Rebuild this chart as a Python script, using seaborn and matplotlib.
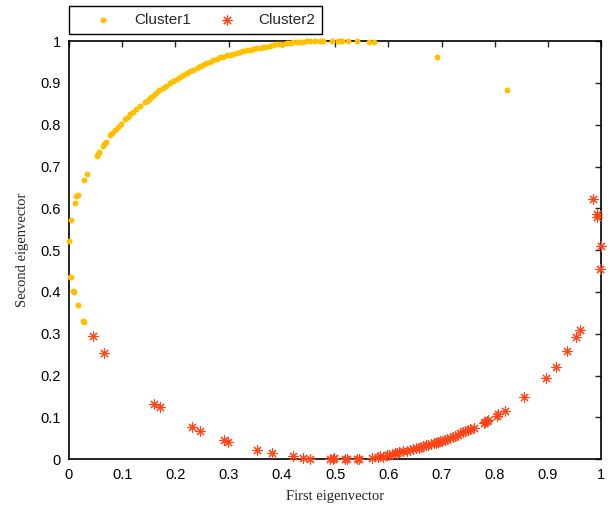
import matplotlib.pyplot as plt
import numpy as np
import pandas as pd
import seaborn as sns

# Cluster1: upper arc (yellow dots)
c1_x = [0.027, 0.028, 0.016, 0.009, 0.008, 0.002, 0.003, 0.000, 0.004, 0.011,
        0.014, 0.016, 0.029, 0.033,
        0.052, 0.054, 0.057, 0.064, 0.066, 0.069, 0.077, 0.080, 0.086, 0.092,
        0.097, 0.105, 0.110, 0.114, 0.120, 0.126, 0.133, 0.143, 0.146, 0.150,
        0.155, 0.160, 0.164, 0.170, 0.177, 0.183, 0.190, 0.196, 0.202, 0.208,
        0.215, 0.221, 0.227, 0.233, 0.240, 0.246, 0.252, 0.258, 0.265, 0.271,
        0.278, 0.284, 0.290, 0.297, 0.303, 0.309, 0.315, 0.321, 0.327, 0.334,
        0.340, 0.346, 0.352, 0.359, 0.365, 0.371, 0.378, 0.384, 0.390, 0.397,
        0.403, 0.409, 0.415, 0.421, 0.428, 0.434, 0.440, 0.447, 0.453, 0.462,
        0.472, 0.478, 0.494, 0.506, 0.509, 0.513, 0.525, 0.541, 0.564, 0.573,
        0.691, 0.823]
c1_y = [0.331, 0.329, 0.370, 0.401, 0.403, 0.437, 0.435, 0.523, 0.573, 0.613,
        0.629, 0.631, 0.669, 0.682,
        0.725, 0.729, 0.734, 0.749, 0.753, 0.759, 0.776, 0.781, 0.787, 0.795,
        0.802, 0.813, 0.819, 0.825, 0.831, 0.838, 0.845, 0.855, 0.857, 0.862,
        0.867, 0.871, 0.876, 0.882, 0.887, 0.893, 0.899, 0.904, 0.909, 0.914,
        0.919, 0.923, 0.928, 0.932, 0.936, 0.941, 0.944, 0.947, 0.950, 0.954,
        0.958, 0.961, 0.963, 0.966, 0.968, 0.970, 0.972, 0.974, 0.976, 0.978,
        0.980, 0.981, 0.983, 0.984, 0.986, 0.987, 0.989, 0.990, 0.992, 0.993,
        0.994, 0.995, 0.996, 0.997, 0.998, 0.998, 0.999, 1.000, 1.000, 1.000,
        1.000, 1.000, 1.000, 1.000, 1.000, 1.000, 1.000, 1.000, 0.997, 0.997,
        0.962, 0.883]

# Cluster2: lower arc (red asterisks)
c2_x = [0.045, 0.066, 0.160, 0.171, 0.232, 0.246, 0.291, 0.298, 0.353, 0.382,
        0.420, 0.439, 0.453, 0.491, 0.496, 0.498, 0.519, 0.523, 0.541, 0.545,
        0.569, 0.580, 0.585, 0.590, 0.597, 0.602, 0.607, 0.612, 0.616, 0.620,
        0.628, 0.635, 0.641, 0.647, 0.652, 0.657, 0.662, 0.666, 0.670, 0.675,
        0.680, 0.685, 0.690, 0.694, 0.698, 0.701, 0.706, 0.710, 0.716, 0.721,
        0.726, 0.731, 0.735, 0.740, 0.744, 0.749, 0.754, 0.761, 0.779, 0.782,
        0.785, 0.788, 0.804, 0.807, 0.820, 0.854, 0.897, 0.915, 0.936, 0.953,
        0.961, 0.984, 0.993, 0.992, 1.000, 0.998]
c2_y = [0.294, 0.253, 0.131, 0.124, 0.078, 0.068, 0.046, 0.042, 0.022, 0.014,
        0.007, 0.004, 0.001, 0.000, 0.000, 0.002, 0.001, 0.001, 0.001, 0.001,
        0.003, 0.006, 0.008, 0.006, 0.010, 0.011, 0.013, 0.014, 0.016, 0.017,
        0.019, 0.020, 0.022, 0.024, 0.026, 0.028, 0.030, 0.032, 0.033, 0.034,
        0.036, 0.038, 0.040, 0.041, 0.043, 0.044, 0.046, 0.048, 0.050, 0.053,
        0.056, 0.059, 0.062, 0.065, 0.068, 0.070, 0.072, 0.074, 0.086, 0.088,
        0.092, 0.094, 0.104, 0.108, 0.115, 0.148, 0.194, 0.221, 0.259, 0.292,
        0.309, 0.622, 0.586, 0.580, 0.511, 0.455]

ticks = [0, 0.1, 0.2, 0.3, 0.4, 0.5, 0.6, 0.7, 0.8, 0.9, 1]
tick_labels = ["0", "0.1", "0.2", "0.3", "0.4", "0.5", "0.6", "0.7", "0.8", "0.9", "1"]


def main():
    sns.set_theme(style="white")
    plt.rcParams['font.family'] = ['Liberation Sans', 'DejaVu Sans']

    df1 = pd.DataFrame({"x": c1_x, "y": c1_y})
    df2 = pd.DataFrame({"x": c2_x, "y": c2_y})

    fig = plt.figure(figsize=(6.16, 5.08), dpi=100)
    ax = fig.add_axes([0.112, 0.096, 0.864, 0.823])

    sns.scatterplot(x="x", y="y", data=df1, ax=ax, color="#FFC000",
                    s=18, linewidth=0, label="Cluster1", clip_on=False, zorder=3)
    sns.scatterplot(x="x", y="y", data=df2, ax=ax, color="#FF4418",
                    marker=(8, 2, 0), s=45, linewidth=0.8, label="Cluster2",
                    clip_on=False, zorder=3)

    ax.set_xlim(0, 1)
    ax.set_ylim(0, 1)
    ax.set_xticks(ticks)
    ax.set_yticks(ticks)
    ax.set_xticklabels(tick_labels, fontsize=10.5)
    ax.set_yticklabels(tick_labels, fontsize=10.5)
    ax.tick_params(direction="in", length=4, width=1, top=True, right=True,
                   color="#262626", pad=6, labelcolor="black")
    for sp in ax.spines.values():
        sp.set_color("black")
        sp.set_linewidth(1.2)

    ax.set_xlabel("First eigenvector", family="Liberation Serif", fontsize=10.5, labelpad=6)
    ax.set_ylabel("Second eigenvector", family="Liberation Serif", fontsize=10.5, labelpad=8)

    leg = ax.legend(loc="lower left", bbox_to_anchor=(0.0, 1.017), ncol=2,
                    frameon=True, fancybox=False, framealpha=1, fontsize=11,
                    borderpad=0.45, columnspacing=0.6, handletextpad=0.3,
                    borderaxespad=0, markerscale=1.0, handlelength=3.5)
    leg.get_frame().set_edgecolor("black")
    leg.get_frame().set_linewidth(1.0)

    plt.savefig("out.png", dpi=100)
    plt.close()


if __name__ == '__main__':
    main()
